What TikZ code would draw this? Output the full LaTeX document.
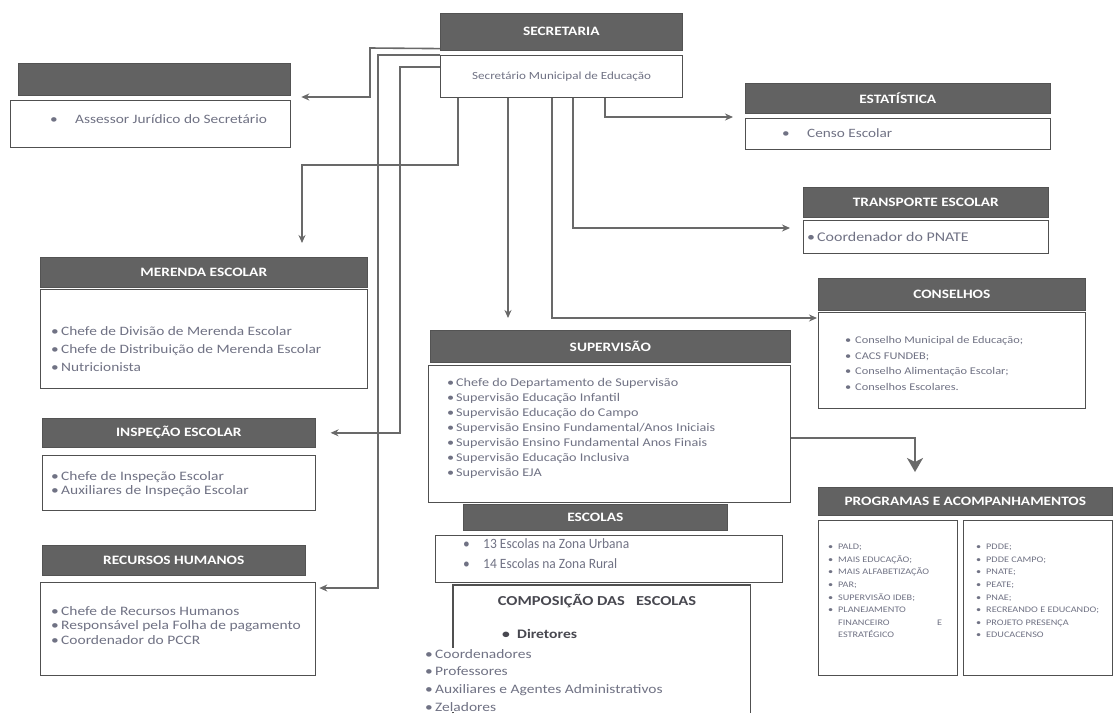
\documentclass[tikz,border=0pt]{standalone}
\usepackage{fontspec}
\setmainfont{Carlito}[FakeStretch=1.2]
\newfontfamily\narrowfont{Carlito}[FakeStretch=0.95]
\usetikzlibrary{calc,arrows.meta}
\definecolor{hdr}{RGB}{98,98,98}
\definecolor{brd}{RGB}{80,80,80}
\definecolor{ln}{RGB}{105,105,105}
\definecolor{txt}{RGB}{112,114,132}
\definecolor{dtxt}{RGB}{72,72,80}
\newcommand{\bul}[1]{\makebox[#1][l]{•}}
\begin{document}
\begin{tikzpicture}[x=1pt,y=-1pt,
  hd/.style={fill=hdr, draw=hdr!85!black, line width=0.6pt, inner sep=0pt, anchor=north west, text=white, font=\bfseries\fontsize{12.8}{14}\selectfont},
  bx/.style={draw=brd, line width=1.3pt, fill=white, inner sep=0pt, anchor=north west},
  lst/.style={anchor=north west, inner sep=0pt, align=left, text=txt},
  conn/.style={draw=ln, line width=1.6pt, -{Stealth[length=8pt,width=7pt]}},
  bigconn/.style={draw=ln, line width=1.8pt, -{Stealth[length=14pt,width=16pt,inset=4pt]}},
]
\useasboundingbox (0,0) rectangle (1115,713);
\fill[white] (0,0) rectangle (1115,713);

% SECRETARIA
\node[hd, minimum width=242, minimum height=37] (sech) at (440,13) {SECRETARIA};
\node[bx, minimum width=242, minimum height=42, text=txt, font=\fontsize{10.9}{13}\selectfont] (secb) at (440,55) {Secretário Municipal de Educação};

% Assessor
\node[hd, minimum width=272, minimum height=32] (assh) at (18,63) {};
\node[bx, minimum width=280, minimum height=47] (assb) at (10,100) {};
\node[lst, font=\fontsize{12.8}{15}\selectfont] (asst) at (50,114) {\bul{25pt}Assessor Jurídico do Secretário};

% Estatistica
\node[hd, minimum width=305, minimum height=30] (esth) at (745,83) {ESTATÍSTICA};
\node[bx, minimum width=305, minimum height=31] (estb) at (745,118) {};
\node[lst, font=\fontsize{12.7}{15}\selectfont] (estt) at (782,128) {\bul{25pt}Censo Escolar};

% Transporte
\node[hd, minimum width=245, minimum height=30] (trah) at (803,187) {TRANSPORTE ESCOLAR};
\node[bx, minimum width=245, minimum height=33] (trab) at (803,220) {};
\node[lst, font=\fontsize{13.3}{15}\selectfont] (trat) at (807,232) {\bul{10pt}Coordenador do PNATE};

% Conselhos
\node[hd, minimum width=267, minimum height=32] (conh) at (818,278) {CONSELHOS};
\node[bx, minimum width=267, minimum height=96] (conb) at (818,312) {};
\node[lst, font=\fontsize{10.3}{15.7}\selectfont] (cont) at (845,336) {\bul{10pt}Conselho Municipal de Educação;\\\bul{10pt}CACS FUNDEB;\\\bul{10pt}Conselho Alimentação Escolar;\\\bul{10pt}Conselhos Escolares.};

% Merenda
\node[hd, minimum width=327, minimum height=30] (merh) at (40,257) {MERENDA ESCOLAR};
\node[bx, minimum width=327, minimum height=99] (merb) at (40,289) {};
\node[lst, font=\fontsize{12.8}{18}\selectfont] (mert) at (51,326) {\bul{10pt}Chefe de Divisão de Merenda Escolar\\\bul{10pt}Chefe de Distribuição de Merenda Escolar\\\bul{10pt}Nutricionista};

% Supervisao
\node[hd, minimum width=360, minimum height=32] (suph) at (430,330) {SUPERVISÃO};
\node[bx, minimum width=362, minimum height=137] (supb) at (428,365) {};
\node[lst, font=\fontsize{11.8}{15}\selectfont] (supt) at (447,378) {\bul{9pt}Chefe do Departamento de Supervisão\\\bul{9pt}Supervisão Educação Infantil\\\bul{9pt}Supervisão Educação do Campo\\\bul{9pt}Supervisão Ensino Fundamental/Anos Iniciais\\\bul{9pt}Supervisão Ensino Fundamental Anos Finais\\\bul{9pt}Supervisão Educação Inclusiva\\\bul{9pt}Supervisão EJA};

% Inspecao
\node[hd, minimum width=273, minimum height=29] (insh) at (42,418) {INSPEÇÃO ESCOLAR};
\node[bx, minimum width=273, minimum height=55] (insb) at (42,455) {};
\node[lst, font=\fontsize{12.9}{14.5}\selectfont] (inst) at (51,471) {\bul{10pt}Chefe de Inspeção Escolar\\\bul{10pt}Auxiliares de Inspeção Escolar};

% Recursos Humanos
\node[hd, minimum width=263, minimum height=30] (rhh) at (42,545) {RECURSOS HUMANOS};
\node[bx, minimum width=275, minimum height=93] (rhb) at (40,582) {};
\node[lst, font=\fontsize{12.9}{14.7}\selectfont] (rht) at (51,606) {\bul{10pt}Chefe de Recursos Humanos\\\bul{10pt}Responsável pela Folha de pagamento\\\bul{10pt}Coordenador do PCCR};

% Escolas
\node[hd, minimum width=264, minimum height=26] (esch) at (463,504) {ESCOLAS};
\node[bx, minimum width=347, minimum height=47] (escb) at (435,535) {};
\node[lst, font=\narrowfont\fontsize{14.2}{20.5}\selectfont] (esct) at (463,538) {\bul{20pt}13 Escolas na Zona Urbana\\\bul{20pt}14 Escolas na Zona Rural};

% Composicao
\node[inner sep=0pt, anchor=north west, minimum width=297, minimum height=128] (comp) at (453,585) {};
\draw[draw=brd, line width=1.3pt] (comp.south west) -- (comp.north west) -- (comp.north east) -- (comp.south east);
\node[text=dtxt, font=\bfseries\fontsize{13.7}{16}\selectfont] (compt) at (597,601) {COMPOSIÇÃO DAS\ \ \ ESCOLAS};
\node[anchor=west, inner sep=0pt, text=dtxt, font=\bfseries\fontsize{13}{16}\selectfont] (dir) at (502,634) {\bul{15pt}Diretores};
\node[lst, fill=white, inner sep=1pt, font=\fontsize{12.9}{17.7}\selectfont] (compl) at (424,648) {\bul{10pt}Coordenadores\\\bul{10pt}Professores\\\bul{10pt}Auxiliares e Agentes Administrativos\\\bul{10pt}Zeladores};

% Programas
\node[hd, minimum width=294, minimum height=28] (progh) at (818,487) {PROGRAMAS E ACOMPANHAMENTOS};
\node[bx, minimum width=139, minimum height=155] (progl) at (818,520) {};
\node[bx, minimum width=149, minimum height=155] (progr) at (963,520) {};
\node[lst, font=\fontsize{8.5}{12.6}\selectfont] (proglt) at (828,544) {\bul{10pt}PALD;\\\bul{10pt}MAIS EDUCAÇÃO;\\\bul{10pt}MAIS ALFABETIZAÇÃO\\\bul{10pt}PAR;\\\bul{10pt}SUPERVISÃO IDEB;\\\bul{10pt}PLANEJAMENTO\\\hspace{10pt}\makebox[104pt][l]{FINANCEIRO\hfill E}\\\hspace{10pt}ESTRATÉGICO};
\node[lst, font=\fontsize{8.5}{12.6}\selectfont] (progrt) at (976,544) {\bul{10pt}PDDE;\\\bul{10pt}PDDE CAMPO;\\\bul{10pt}PNATE;\\\bul{10pt}PEATE;\\\bul{10pt}PNAE;\\\bul{10pt}RECREANDO E EDUCANDO;\\\bul{10pt}PROJETO PRESENÇA\\\bul{10pt}EDUCACENSO};

% Connectors
\draw[conn] ($(sech.south west)+(0,-2)$) -- (370,48) |- ($(assb.north east)+(10,-3)$);
\draw[conn] (secb.north west) -- (378,55) |- ($(rhb.north east)+(3,6)$);
\draw[conn] ($(secb.north west)+(0,12)$) -- (400,67) |- ($(insh.east)+(15,0)$);
\draw[conn] ($(secb.south west)+(18,0)$) -- (458,165) -| ($(merh.north west)+(262,-14)$);
\draw[conn] ($(secb.south west)+(68,0)$) -- ($(suph.north west)+(78,-12)$);
\draw[conn] ($(secb.south west)+(112,0)$) |- ($(conb.north west)+(-1,6)$);
\draw[conn] ($(secb.south west)+(133,0)$) |- ($(trab.north west)+(-13,8)$);
\draw[conn] ($(secb.south west)+(165,0)$) |- ($(estb.north west)+(-12,-1)$);
\draw[bigconn] ($(supb.east)+(0,4)$) -| ($(progh.north west)+(97,-15)$);
\end{tikzpicture}
\end{document}
